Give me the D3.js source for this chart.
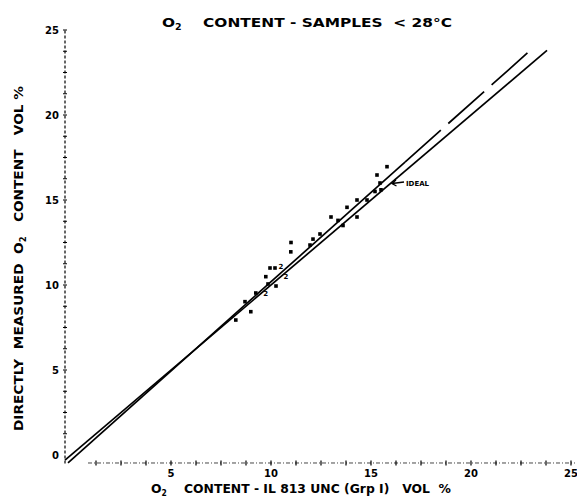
<!DOCTYPE html>
<html>
<head>
<meta charset="utf-8">
<script src="https://cdnjs.cloudflare.com/ajax/libs/d3/7.8.5/d3.min.js"></script>
<style>
body{margin:0;background:#fff;}
text{font-family:"DejaVu Sans","Liberation Sans",Arial,sans-serif;font-weight:bold;fill:#000;}
</style>
</head>
<body>
<svg id="chart" width="577" height="497"></svg>
<script>
// values, vol %
var xTicks = [5, 10, 15, 20, 25];
var yTicks = [0, 5, 10, 15, 20, 25];
var minorTicks = d3.range(1.25, 25.01, 1.25);

// IL 813 (x) vs directly measured (y)
var sampleX = [8.24, 8.99, 8.7, 9.24, 9.85, 10.25, 9.74, 9.95, 10.2, 10.99, 11.0,
	11.95, 12.1, 12.45, 13.0, 13.35, 13.6, 14.3, 13.8, 14.3, 14.8, 15.2, 15.5, 15.45, 15.3, 15.8];
var sampleY = [7.94, 8.43, 9.02, 9.53, 10.06, 9.94, 10.49, 11.0, 11.0, 11.95, 12.5,
	12.35, 12.7, 13.0, 14.0, 13.8, 13.5, 14.0, 14.57, 15.0, 15.0, 15.5, 15.6, 16.0, 16.47, 16.96];
// spots printed as "2" (two samples on the same place)
var doubleX = [10.5, 10.75, 9.74];
var doubleY = [11.06, 10.47, 9.47];

var idealLine = [[-0.3, -0.3], [23.8, 23.8]];
var fitSolid = [[-0.15, -0.47], [16.7, 17.23]];
var fitDashed = [[16.7, 17.23], [23.1, 23.94]];

var svg = d3.select("#chart");
var x = d3.scaleLinear().domain([0, 25]).range([71, 571]);
var y = d3.scaleLinear().domain([0, 25]).range([455, 30]);

var line = d3.line().x(function(d){ return x(d[0]); }).y(function(d){ return y(d[1]); });

/* axes, drawn dashed like the plotter did */
var ax = x(-0.3);
svg.append("line")
	.attr("x1", ax).attr("x2", ax)
	.attr("y1", y(-0.5)).attr("y2", y(25))
	.attr("stroke", "#000").attr("stroke-width", 1.2)
	.attr("stroke-dasharray", "3,2");
svg.selectAll(".ytick").data(minorTicks).enter().append("line")
	.attr("x1", ax - 2).attr("x2", ax + 2)
	.attr("y1", function(d){ return y(d); }).attr("y2", function(d){ return y(d); })
	.attr("stroke", "#000").attr("stroke-width", 1);

var ay = y(-0.47);
svg.append("line")
	.attr("x1", x(0.85)).attr("x2", x(25.2))
	.attr("y1", ay).attr("y2", ay)
	.attr("stroke", "#333").attr("stroke-width", 0.9)
	.attr("stroke-dasharray", "4,2,1,2");
svg.selectAll(".xtick").data(minorTicks).enter().append("line")
	.attr("x1", function(d){ return x(d); }).attr("x2", function(d){ return x(d); })
	.attr("y1", ay - 2.5).attr("y2", ay + 2.5)
	.attr("stroke", "#000").attr("stroke-width", 1.2);

svg.selectAll(".ylab").data(yTicks).enter().append("text")
	.attr("x", ax - 6).attr("y", function(d){ return y(d); })
	.attr("dy", "0.35em").attr("text-anchor", "end")
	.attr("font-size", 10).text(function(d){ return d; });
svg.selectAll(".xlab").data(xTicks).enter().append("text")
	.attr("x", function(d){ return x(d); }).attr("y", ay + 11)
	.attr("dy", "0.35em").attr("text-anchor", "middle")
	.attr("font-size", 10).text(function(d){ return d; });

/* titles, stretched to the width of the original lettering */
function o2text(g, before, after, len) {
	var t = g.attr("font-size", 13).attr("xml:space", "preserve")
		.attr("textLength", len).attr("lengthAdjust", "spacingAndGlyphs");
	t.append("tspan").text(before + "O");
	t.append("tspan").attr("font-size", 8).attr("dy", 2.5).text("2");
	t.append("tspan").attr("dy", -2.5).text(after);
	return t;
}
o2text(svg.append("text").attr("x", 162).attr("y", 27), "", "    CONTENT - SAMPLES  < 28°C", 290);
o2text(svg.append("text").attr("x", 151).attr("y", 493), "", "    CONTENT - IL 813 UNC (Grp I)   VOL  %", 300);
o2text(svg.append("text").attr("transform", "translate(23,431) rotate(-90)"),
	"DIRECTLY  MEASURED  ", "   CONTENT   VOL %", 345);

/* lines */
svg.append("path").datum(idealLine).attr("d", line)
	.attr("fill", "none").attr("stroke", "#000").attr("stroke-width", 1.7);
svg.append("path").datum(fitSolid).attr("d", line)
	.attr("fill", "none").attr("stroke", "#000").attr("stroke-width", 1.7);
svg.append("path").datum(fitDashed).attr("d", line)
	.attr("fill", "none").attr("stroke", "#000").attr("stroke-width", 1.7)
	.attr("stroke-dasharray", "48,10");

/* samples */
svg.selectAll(".pt").data(sampleX).enter().append("rect")
	.attr("x", function(d){ return x(d) - 1.8; })
	.attr("y", function(d, i){ return y(sampleY[i]) - 1.8; })
	.attr("width", 3.6).attr("height", 3.6).attr("fill", "#000");
svg.selectAll(".dbl").data(doubleX).enter().append("text")
	.attr("x", function(d){ return x(d); })
	.attr("y", function(d, i){ return y(doubleY[i]); })
	.attr("dy", "0.35em").attr("text-anchor", "middle")
	.attr("font-size", 7).text("2");

/* ideal label with arrow */
var tip = [16.05, 15.97];
svg.append("path")
	.attr("d", "M" + (x(tip[0]) + 12) + "," + (y(tip[1]) - 1.5) + "L" + x(tip[0]) + "," + y(tip[1]) +
		"M" + (x(tip[0]) + 4) + "," + (y(tip[1]) - 3.5) + "L" + x(tip[0]) + "," + y(tip[1]) +
		"L" + (x(tip[0]) + 4.5) + "," + (y(tip[1]) + 2.5))
	.attr("fill", "none").attr("stroke", "#000").attr("stroke-width", 1.3);
svg.append("text").attr("x", x(tip[0]) + 14).attr("y", y(tip[1]))
	.attr("dy", "0.35em").attr("font-size", 7).text("IDEAL");
</script>
</body>
</html>
